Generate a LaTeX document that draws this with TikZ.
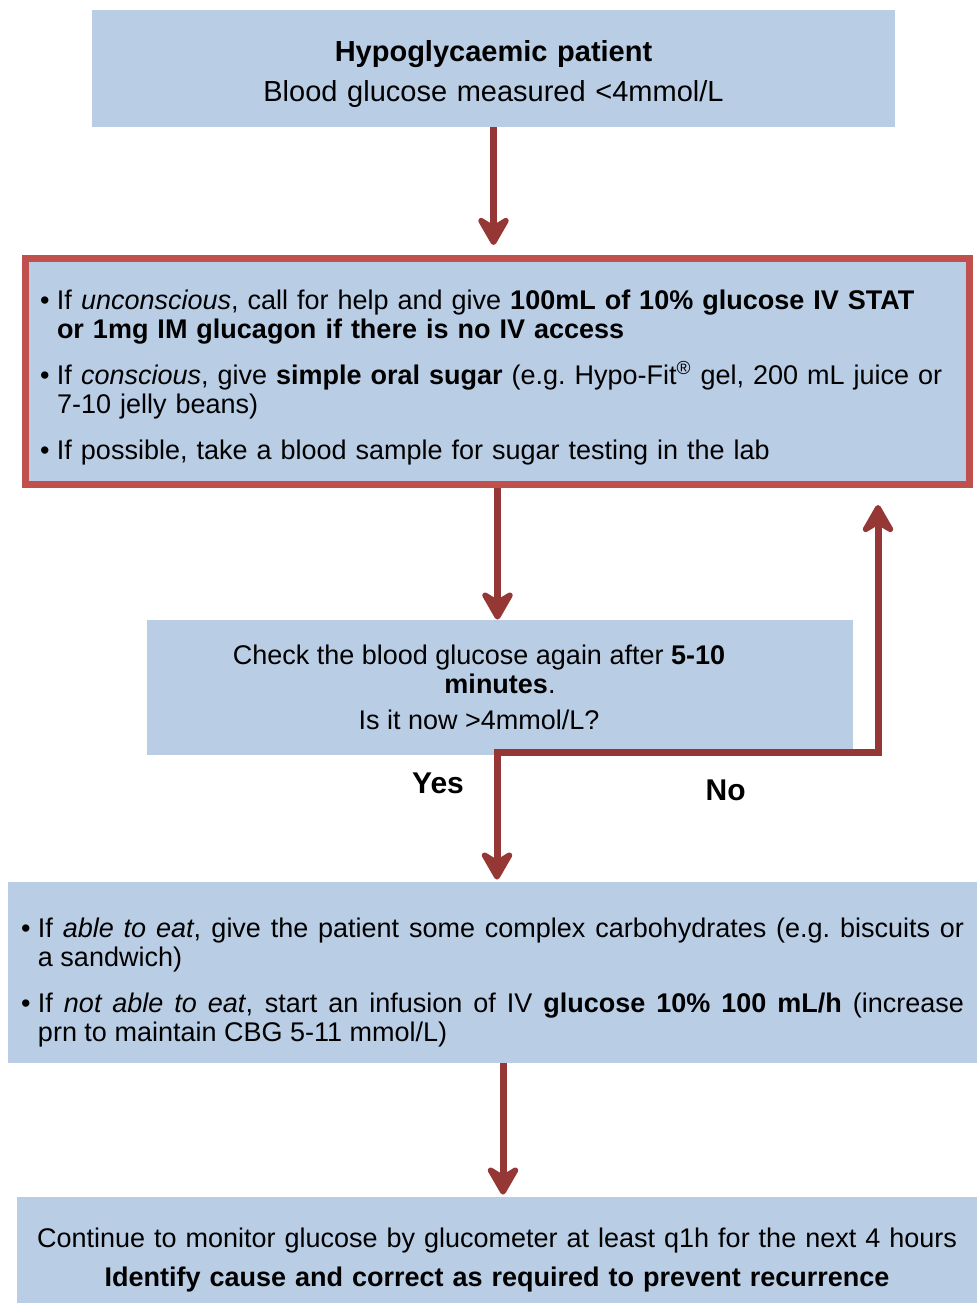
\documentclass[tikz,border=0pt]{standalone}
\usepackage{fontspec}
\setmainfont{Liberation Sans}
\usepackage{xcolor}
\usetikzlibrary{arrows.meta, positioning}

\definecolor{boxblue}{HTML}{B9CDE5}
\definecolor{alertred}{HTML}{C0504D}
\definecolor{arrowred}{HTML}{953735}

\newcommand{\hypoitem}[1]{\par\noindent\hangindent=8.5pt\hangafter=1\makebox[8.5pt][l]{\textbullet}#1}

\begin{document}
\begin{tikzpicture}[
  x=0.5pt, y=-0.5pt,
  box/.style={rectangle, fill=boxblue, inner sep=0pt, font=\fontsize{13.5}{14.5}\selectfont},
  headbox/.style={box, minimum width=401.5pt, minimum height=58.5pt, text width=390pt, align=center,
                  font=\fontsize{14.5}{20}\selectfont},
  alertbox/.style={box, draw=alertred, line width=3.5pt, minimum width=472pt,
                   minimum height=113pt, text width=457.5pt, align=left},
  checkbox/.style={box, minimum width=353pt, minimum height=67.5pt, align=center},
  listbox/.style={box, minimum width=484.5pt, minimum height=90.5pt, text width=471.5pt, align=justify},
  endbox/.style={box, minimum width=480pt, minimum height=53pt, text width=470pt, align=center,
                 font=\fontsize{13.5}{19.5}\selectfont},
  flowarrow/.style={draw=arrowred, line width=3.5pt, -{Stealth[length=17.5pt, width=20pt, inset=6pt, round]}},
  answer/.style={font=\bfseries\fontsize{15}{18}\selectfont}
]
\useasboundingbox (0,0) rectangle (977,1303);

\node[headbox] (patient) at (493.5,68.5) {%
  \textbf{Hypoglycaemic patient}\\
  Blood glucose measured <4mmol/L\par\kern-5pt
};
\node[alertbox] (treat) at (497.5,371.5) {\setlength{\parskip}{8.5pt}%
  \hypoitem{If \textit{unconscious}, call for help and give \textbf{100mL of 10\% glucose IV STAT}\newline
    \textbf{or 1mg IM glucagon if there is no IV access}}%
  \hypoitem{If \textit{conscious}, give \textbf{simple oral sugar} (e.g.\ Hypo-Fit\smash{\textsuperscript{\textregistered}} gel, 200 mL juice or\newline
    7-10 jelly beans)}%
  \hypoitem{If possible, take a blood sample for sugar testing in the lab}%
  \par\kern7pt
};
\node[checkbox] (recheck) at (500,687.5) {%
  Check the blood glucose again after \textbf{5-10}\hspace*{21pt}\\
  \textbf{minutes}.\hspace*{21pt}\\[3.5pt]
  Is it now >4mmol/L?\hspace*{21pt}
};
\node[listbox] (eat) at (492.5,972.5) {\setlength{\parskip}{8.5pt}%
  \hypoitem{If \textit{able to eat}, give the patient some complex carbohydrates (e.g.\ biscuits or\linebreak
    a sandwich)}%
  \hypoitem{If \textit{not able to eat}, start an infusion of IV \textbf{glucose 10\% 100 mL/h} (increase\linebreak
    prn to maintain CBG 5-11 mmol/L)}%
  \par\kern3pt
};
\node[endbox] (monitor) at (497,1250) {%
  Continue to monitor glucose by glucometer at least q1h for the next 4 hours\\
  \textbf{Identify cause and correct as required to prevent recurrence}\par\kern-10pt
};

% connectors
\coordinate (split) at (497,752);
\coordinate (retry) at (878,505);
\draw[flowarrow, shorten >=5pt] (patient.south) -- (patient.south |- treat.north);
\draw[flowarrow] (treat.south) -- (treat.south |- recheck.north);
\draw[flowarrow, shorten <=-1.75pt, shorten >=1pt] (split) -- node[answer, pos=0.24, xshift=-29.5pt] {Yes} (split |- eat.north);
\draw[flowarrow] (split) -| node[answer, pos=0.3, yshift=-19pt] {No} (retry);
\draw[flowarrow, shorten >=1pt] ([xshift=5.25pt]eat.south) -- ([xshift=5.25pt]eat.south |- monitor.north);
\end{tikzpicture}
\end{document}
